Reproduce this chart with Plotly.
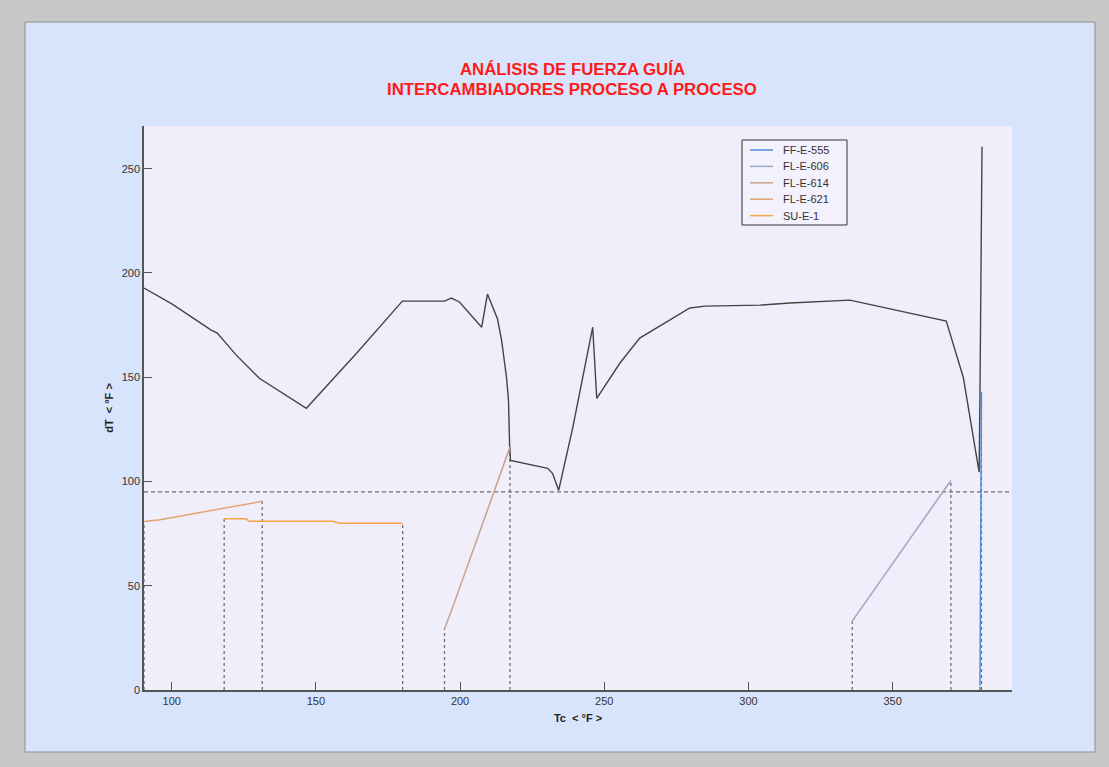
import plotly.graph_objects as go

# ---------------- data ----------------
# composite driving-force curve (black)
comp_tc = [90.4, 100.2, 113.7, 115.8, 122.4, 130.4, 146.7, 164.1, 180.0, 194.6,
           197.0, 199.8, 207.5, 209.5, 213.0, 214.4, 216.1, 216.8, 217.2, 217.5,
           230.4, 232.1, 234.2, 239.1, 246.0, 247.4, 255.4, 262.3, 279.7, 284.9,
           304.0, 314.4, 335.2, 368.6, 374.5, 380.0, 380.3, 380.6, 381.0]
comp_dt = [192.8, 185.1, 172.6, 171.2, 160.6, 149.5, 135.1, 161.5, 186.5, 186.5,
           188.0, 186.1, 174.0, 189.9, 177.9, 167.8, 150.0, 138.9, 116.3, 110.1,
           106.3, 103.8, 95.7, 126.0, 174.0, 139.9, 156.7, 168.8, 183.2, 184.1,
           184.6, 185.6, 187.0, 176.9, 150.0, 104.5, 143.0, 221.0, 260.5]

# individual exchangers
ff555_tc = [380.3, 380.5, 380.8]
ff555_dt = [2.0, 59.0, 143.0]
fl606_tc = [336.0, 370.2]
fl606_dt = [33.0, 100.5]
fl614_tc = [194.6, 197.0, 206.1, 217.3]
fl614_dt = [29.3, 38.0, 73.1, 116.5]
fl621_tc = [90.4, 96.0, 131.4]
fl621_dt = [80.8, 81.7, 90.5]
sue1_tc = [118.2, 125.8, 126.9, 155.8, 158.2, 180.1]
sue1_dt = [82.1, 82.1, 80.9, 80.9, 80.0, 80.0]

series_names = ["FF-E-555", "FL-E-606", "FL-E-614", "FL-E-621", "SU-E-1"]
series_tc = [ff555_tc, fl606_tc, fl614_tc, fl621_tc, sue1_tc]
series_dt = [ff555_dt, fl606_dt, fl614_dt, fl621_dt, sue1_dt]
series_colors = ["#4f8edb", "#9aaac2", "#c4a48e", "#e2a472", "#f7a447"]

dt_min = 95  # minimum approach line

x_ticks = [100, 150, 200, 250, 300, 350]
y_ticks = [0, 50, 100, 150, 200, 250]
x_range = [90.4, 391.4]
y_range = [0, 270.5]

title_lines = ["ANÁLISIS DE FUERZA GUÍA", "INTERCAMBIADORES PROCESO A PROCESO"]
x_title = "Tc  < °F >"
y_title = "dT  < °F >"

# ---------------- figure ----------------
W, H = 1109, 767
L, R, T, B = 144, 97, 126, 77
pw, ph = W - L - R, H - T - B


def px_to_paper_x(px):
    return (px - L) / pw


def py_to_paper_y(py):
    return (H - B - py) / ph


fig = go.Figure()

# drop lines (from each exchanger's end points down to the axis)
for tcs, dts in zip(series_tc, series_dt):
    for i in (0, -1):
        fig.add_trace(go.Scatter(
            x=[tcs[i], tcs[i]], y=[0, dts[i]], mode="lines",
            line=dict(color="#6e6e6e", width=1.3, dash="dot"),
            showlegend=False, hoverinfo="skip"))

# minimum dT line
fig.add_trace(go.Scatter(
    x=x_range, y=[dt_min, dt_min], mode="lines",
    line=dict(color="#6e6e6e", width=1.2, dash="4px,3px"),
    showlegend=False, hoverinfo="skip"))

# composite curve
fig.add_trace(go.Scatter(
    x=comp_tc, y=comp_dt, mode="lines",
    line=dict(color="#444444", width=1.4),
    showlegend=False))

for name, tcs, dts, col in zip(series_names, series_tc, series_dt, series_colors):
    fig.add_trace(go.Scatter(
        x=tcs, y=dts, mode="lines", name=name,
        line=dict(color=col, width=1.5), showlegend=False))

font_family = "Liberation Sans, Arial, sans-serif"

shapes = [
    dict(type="rect", xref="paper", yref="paper", layer="below",
         x0=px_to_paper_x(25), x1=px_to_paper_x(1095),
         y0=py_to_paper_y(752), y1=py_to_paper_y(22),
         fillcolor="#d8e4fb", line=dict(color="#8c8c8c", width=1)),
    dict(type="rect", xref="paper", yref="paper", layer="below",
         x0=0, x1=1, y0=0, y1=1,
         fillcolor="#f1eefc", line=dict(width=0)),
    # legend box
    dict(type="rect", xref="paper", yref="paper", layer="above",
         x0=px_to_paper_x(742), x1=px_to_paper_x(847),
         y0=py_to_paper_y(225), y1=py_to_paper_y(140),
         fillcolor="#f3f1fc", line=dict(color="#333333", width=1)),
]
annotations = []

# custom legend entries
for k, (name, col) in enumerate(zip(series_names, series_colors)):
    yc = 150 + k * 16.4
    shapes.append(dict(type="line", xref="paper", yref="paper", layer="above",
                       x0=px_to_paper_x(750), x1=px_to_paper_x(773),
                       y0=py_to_paper_y(yc), y1=py_to_paper_y(yc),
                       line=dict(color=col, width=1.5)))
    annotations.append(dict(xref="paper", yref="paper",
                            x=px_to_paper_x(781), y=py_to_paper_y(yc),
                            xanchor="left", yanchor="middle", showarrow=False,
                            text=name, font=dict(size=11, color="#333333")))

# title lines
for k, line in enumerate(title_lines):
    annotations.append(dict(xref="paper", yref="paper",
                            x=px_to_paper_x(572), y=py_to_paper_y(69 + 20 * k),
                            xanchor="center", yanchor="middle", showarrow=False,
                            text=line,
                            font=dict(family=font_family, size=16.8,
                                      color="#ff1a1a", weight="bold")))

axis_common = dict(ticks="inside", ticklen=8, tickcolor="#555555",
                   showline=True, linecolor="#555555", linewidth=1.5,
                   showgrid=False, zeroline=False,
                   tickfont=dict(family=font_family, size=11, color="#333333"))

fig.update_layout(
    template="none",
    width=W, height=H,
    margin=dict(l=L, r=R, t=T, b=B, autoexpand=False),
    paper_bgcolor="#c8c8c8",
    plot_bgcolor="rgba(0,0,0,0)",
    font=dict(family=font_family, size=11, color="#333333"),
    showlegend=False,
    xaxis=dict(range=x_range, tickvals=x_ticks,
               title=dict(text=x_title, standoff=8,
                          font=dict(size=11, color="#222222", weight="bold")),
               **axis_common),
    yaxis=dict(range=y_range, tickvals=y_ticks,
               title=dict(text=y_title, standoff=6,
                          font=dict(size=11, color="#222222", weight="bold")),
               **axis_common),
    shapes=shapes,
    annotations=annotations,
)

fig.write_html("out.html", config={"displayModeBar": False},
               post_script="document.body.style.margin='0px';")
